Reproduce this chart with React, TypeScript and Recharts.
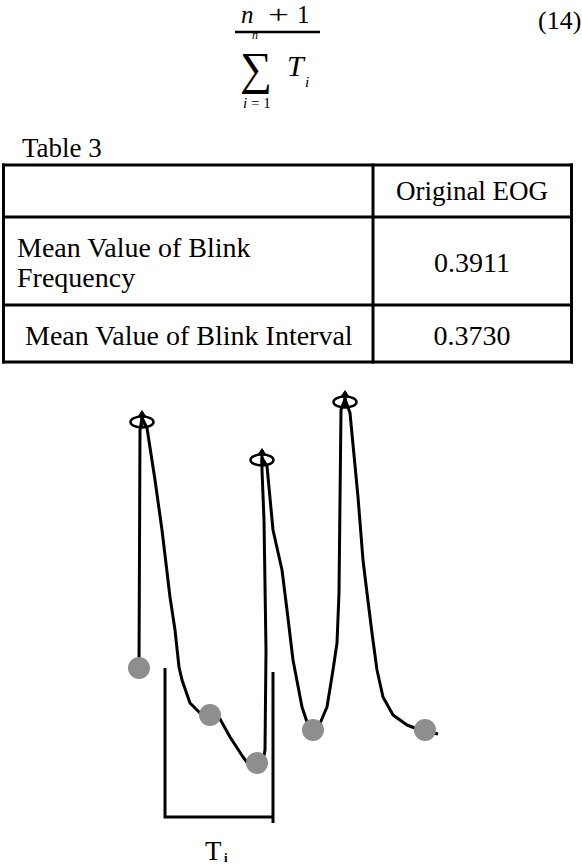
import React from 'react';
import { ComposedChart, Line, Scatter, XAxis, YAxis } from 'recharts';

// ---- Formula / table content ----
const tableTitle = 'Table 3';
const tableColumn = 'Original EOG';
const rowLabels = [['Mean Value of Blink', 'Frequency'], ['Mean Value of Blink Interval']];
const rowValues = ['0.3911', '0.3730'];
const equationNumber = '(14)';

// ---- EOG waveform (sample index, amplitude) ----
const waveT = [0, 1, 3, 8, 16, 23, 31, 36, 40, 43, 51, 61, 71, 81, 91, 104, 113, 118, 123, 126, 127, 125, 123, 123, 128, 134, 143, 148, 154, 163, 169, 174, 179, 188, 194, 198, 200, 201, 202, 206, 211, 219, 224, 228, 233, 238, 244, 254, 268, 281, 299];
const waveA = [104, 342, 354, 344, 292, 242, 175, 142, 105, 92, 69, 59, 56, 53, 35, 15, 3, 1, 6, 22, 122, 252, 302, 314, 306, 242, 202, 162, 112, 65, 47, 39, 44, 65, 102, 129, 179, 272, 362, 373, 359, 275, 212, 179, 139, 102, 75, 57, 47, 42, 38];

// detected peaks (open markers)
const peakT = [3, 123, 206];
const peakA = [350, 312, 370];

// detected valleys / onsets (grey dots)
const valleyT = [0, 71, 118, 174, 286];
const valleyA = [104, 57, 9, 42, 42];

// interval bracket T_i
const bracketT = [26, 26, 134, 134, 134];
const bracketA = [104, -45, -45, -51, 100];

const zip = (ts: number[], as: number[]) => ts.map((t, i) => ({ t, a: as[i] }));
const waveData = zip(waveT, waveA);
const peakData = zip(peakT, peakA);
const valleyData = zip(valleyT, valleyA);
const bracketData = zip(bracketT, bracketA);

const serif = 'Liberation Serif, Tinos, DejaVu Serif, Times New Roman, serif';

const ValleyDot = (props: any) => {
  const { cx, cy } = props;
  return <circle cx={cx} cy={cy} r={11} fill="#8e8e8e" />;
};

const PeakMarker = (props: any) => {
  const { cx, cy } = props;
  return (
    <g>
      <ellipse cx={cx} cy={cy} rx={11.5} ry={5.5} fill="none" stroke="#000" strokeWidth={2.5} />
      <line x1={cx} y1={cy - 10} x2={cx} y2={cy + 6} stroke="#000" strokeWidth={3} />
      <polygon points={`${cx - 4},${cy - 6} ${cx + 4},${cy - 6} ${cx},${cy - 12}`} fill="#000" />
    </g>
  );
};

const T = (p: any) => <text {...p} style={{ fontFamily: serif }} />;

export default function App() {
  const tx = 472;
  return (
    <div style={{ position: 'relative', width: 582, height: 866, background: '#fff', overflow: 'hidden', fontFamily: serif }}>
      <style>{`body{margin:0;}`}</style>
      <svg width={582} height={866} style={{ position: 'absolute', left: 0, top: 0, fontFamily: serif }}>
        {/* formula */}
        <T x={241} y={23} fontSize={25} fontStyle="italic">n</T>
        <T x={268} y={23} fontSize={25} textLength={21} lengthAdjust="spacingAndGlyphs">+</T>
        <T x={297} y={23} fontSize={25}>1</T>
        <line x1={235} y1={32} x2={320} y2={32} stroke="#000" strokeWidth={2.5} />
        <T x={252} y={39} fontSize={12} fontStyle="italic">n</T>
        <T x={240} y={84} fontSize={46} textLength={32} lengthAdjust="spacingAndGlyphs">∑</T>
        <T x={287} y={76} fontSize={30} fontStyle="italic">T</T>
        <T x={305} y={87} fontSize={15} fontStyle="italic">i</T>
        <T x={243} y={108} fontSize={15}><tspan fontStyle="italic">i</tspan> = 1</T>
        <T x={538} y={29} fontSize={26}>{equationNumber}</T>

        {/* table */}
        <T x={22} y={157} fontSize={27}>{tableTitle}</T>
        <g stroke="#000" strokeWidth={3}>
          <line x1={2} y1={165} x2={573} y2={165} />
          <line x1={2} y1={217} x2={573} y2={217} />
          <line x1={2} y1={305} x2={573} y2={305} />
          <line x1={2} y1={362} x2={573} y2={362} />
          <line x1={3.5} y1={163.5} x2={3.5} y2={363.5} />
          <line x1={571.5} y1={163.5} x2={571.5} y2={363.5} />
          <line x1={373} y1={163.5} x2={373} y2={363.5} />
        </g>
        <T x={tx} y={200} fontSize={27} textAnchor="middle">{tableColumn}</T>
        <T x={17} y={257} fontSize={28}>{rowLabels[0][0]}</T>
        <T x={17} y={287} fontSize={28}>{rowLabels[0][1]}</T>
        <T x={tx} y={272} fontSize={28} textAnchor="middle">{rowValues[0]}</T>
        <T x={25} y={345} fontSize={28}>{rowLabels[1][0]}</T>
        <T x={tx} y={345} fontSize={28} textAnchor="middle">{rowValues[1]}</T>

        {/* interval label */}
        <T x={205} y={860} fontSize={27}>T</T>
        <T x={224} y={862} fontSize={13} fontWeight="bold">i</T>
      </svg>

      <div style={{ position: 'absolute', left: 0, top: 380 }}>
        <ComposedChart width={582} height={486} margin={{ top: 0, right: 0, bottom: 0, left: 0 }}>
          <XAxis type="number" dataKey="t" domain={[-139, 443]} allowDataOverflow hide />
          <YAxis type="number" dataKey="a" domain={[-94, 392]} allowDataOverflow hide />
          <Scatter data={valleyData} shape={ValleyDot} isAnimationActive={false} />
          <Line data={bracketData} dataKey="a" type="linear" stroke="#000" strokeWidth={3} dot={false} isAnimationActive={false} strokeLinejoin="miter" />
          <Line data={waveData} dataKey="a" type="linear" stroke="#000" strokeWidth={3} dot={false} isAnimationActive={false} strokeLinejoin="round" />
          <Scatter data={peakData} shape={PeakMarker} isAnimationActive={false} />
        </ComposedChart>
      </div>
    </div>
  );
}
